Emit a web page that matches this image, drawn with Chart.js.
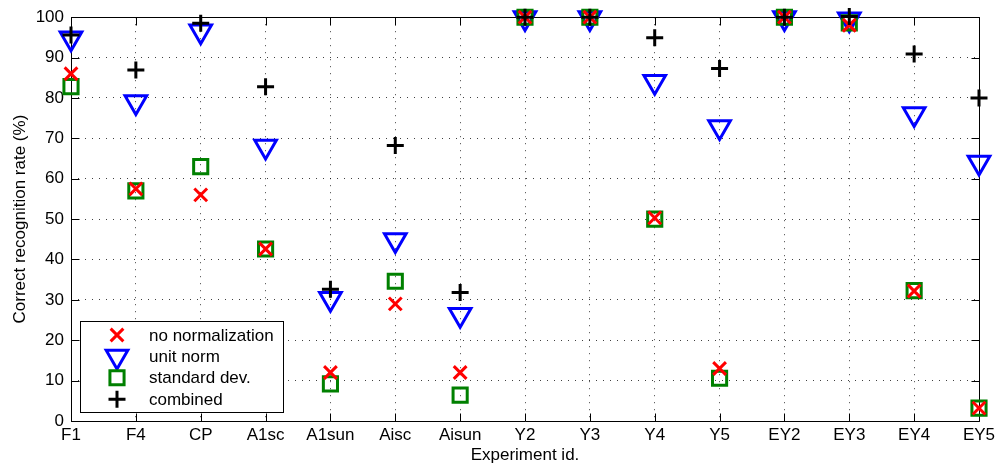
<!DOCTYPE html>
<html lang="en">
<head>
  <meta charset="UTF-8">
  <title>Correct recognition rate</title>
  <script src="https://cdn.jsdelivr.net/npm/chart.js"></script>
  <style>
    html, body { margin: 0; padding: 0; background: #fff; }
    #wrap { width: 1000px; height: 470px; }
  </style>
</head>
<body>
  <div id="wrap"><canvas id="rates" width="1000" height="470"></canvas></div>

  <script>
    const categories = ["F1", "F4", "CP", "A1sc", "A1sun", "Aisc", "Aisun", "Y2", "Y3", "Y4", "Y5", "EY2", "EY3", "EY4", "EY5"];
    const noNormalization = [86, 57.5, 56, 42.6, 12, 29, 12, 100, 100, 50.3, 13, 100, 98, 32.2, 3.2];
    const unitNorm = [94.8, 79, 96.5, 68, 30.3, 44.8, 26.3, 99.8, 99.8, 84, 72.8, 99.8, 99.5, 76, 64];
    const standardDev = [82.8, 57, 63, 42.6, 9.2, 34.6, 6.4, 100, 100, 50, 10.6, 100, 98.6, 32.3, 3.2];
    const combined = [95.6, 86.9, 98.5, 82.8, 32.6, 68.2, 31.8, 100, 100, 94.9, 87.3, 100, 100.2, 90.9, 80];
    const yTicks = [0, 10, 20, 30, 40, 50, 60, 70, 80, 90, 100];

    const FONT = "'Liberation Sans', Arial, Helvetica, sans-serif";

    const series = [
      { label: "no normalization", data: noNormalization, color: "#ff0000", style: "crossRot", radius: 9, rotation: 0, order: 1 },
      { label: "unit norm", data: unitNorm, color: "#0000ff", style: "triangle", radius: 12.5, rotation: 180, order: 3 },
      { label: "standard dev.", data: standardDev, color: "#008000", style: "rect", radius: 10, rotation: 0, order: 2 },
      { label: "combined", data: combined, color: "#000000", style: "cross", radius: 8.5, rotation: 0, order: 0 }
    ];

    // marker drawing shared by the plot and the legend box
    function marker(ctx, s, x, y) {
      ctx.save();
      ctx.strokeStyle = s.color;
      ctx.fillStyle = "rgba(0,0,0,0)";
      ctx.lineWidth = 3;
      if (Chart.helpers && Chart.helpers.drawPoint) {
        Chart.helpers.drawPoint(ctx, { pointStyle: s.style, radius: s.radius, rotation: s.rotation, borderWidth: 3 }, x, y);
      }
      ctx.restore();
    }

    // box round the plot with inward tick marks on all four sides
    const frame = {
      id: "frame",
      beforeDatasetsDraw(chart) {
        const { ctx, chartArea: a, scales: { x, y } } = chart;
        const L = Math.round(a.left) + 0.5, R = Math.round(a.right) + 0.5;
        const T = Math.round(a.top) + 0.5, B = Math.round(a.bottom) + 0.5;
        ctx.save();
        ctx.strokeStyle = "#000";
        ctx.lineWidth = 1;
        ctx.beginPath();
        ctx.rect(L, T, R - L, B - T);
        categories.forEach((c, i) => {
          const px = Math.round(x.getPixelForValue(i)) + 0.5;
          ctx.moveTo(px, B); ctx.lineTo(px, B - 8);
          ctx.moveTo(px, T); ctx.lineTo(px, T + 8);
        });
        yTicks.forEach(v => {
          const py = Math.round(y.getPixelForValue(v)) + 0.5;
          ctx.moveTo(L, py); ctx.lineTo(L + 8, py);
          ctx.moveTo(R, py); ctx.lineTo(R - 8, py);
        });
        ctx.stroke();
        ctx.restore();
      },
      afterDatasetsDraw(chart) {
        const ctx = chart.ctx;
        const bx = 80.5, by = 321.5, bw = 203, bh = 91;
        ctx.save();
        ctx.fillStyle = "#fff";
        ctx.fillRect(bx, by, bw, bh);
        ctx.strokeStyle = "#000";
        ctx.lineWidth = 1;
        ctx.strokeRect(bx, by, bw, bh);
        ctx.font = "17px " + FONT;
        ctx.textBaseline = "middle";
        ctx.fillStyle = "#000";
        series.forEach((s, i) => {
          const cy = 335 + i * 21.4;
          marker(ctx, s, 117, cy);
          ctx.fillText(s.label, 149, cy + 1);
        });
        ctx.restore();
      }
    };

    new Chart(document.getElementById("rates"), {
      type: "line",
      data: {
        labels: categories,
        datasets: series.map(s => ({
          label: s.label,
          data: s.data,
          showLine: false,
          clip: false,
          order: s.order,
          borderColor: s.color,
          backgroundColor: "rgba(0,0,0,0)",
          pointStyle: s.style,
          pointRadius: s.radius,
          pointRotation: s.rotation,
          pointBorderWidth: 3,
          pointBorderColor: s.color,
          pointBackgroundColor: "rgba(0,0,0,0)"
        }))
      },
      options: {
        responsive: false,
        animation: false,
        events: [],
        layout: { padding: { top: 16, right: 21, left: 0, bottom: 0 } },
        plugins: { legend: { display: false }, tooltip: { enabled: false } },
        scales: {
          x: {
            offset: false,
            afterFit: s => { s.height = 49; },
            grid: { color: "rgba(0,0,0,0.75)", lineWidth: 1, drawTicks: false },
            border: { display: false, dash: [1, 6] },
            ticks: { color: "#000", padding: 4, maxRotation: 0, autoSkip: false, font: { family: FONT, size: 17 } },
            title: { display: true, text: "Experiment id.", color: "#000", padding: { top: 0, bottom: 4 }, font: { family: FONT, size: 17 } }
          },
          y: {
            min: 0,
            max: 100,
            afterFit: s => { s.width = 71; },
            afterBuildTicks: s => { s.ticks = yTicks.map(v => ({ value: v })); },
            grid: { color: "rgba(0,0,0,0.75)", lineWidth: 1, drawTicks: false },
            border: { display: false, dash: [1, 6] },
            ticks: { color: "#000", padding: 7, font: { family: FONT, size: 17 } },
            title: { display: true, text: "Correct recognition rate (%)", color: "#000", padding: { top: 10, bottom: 0 }, font: { family: FONT, size: 17 } }
          }
        }
      },
      plugins: [frame]
    });
  </script>
</body>
</html>
